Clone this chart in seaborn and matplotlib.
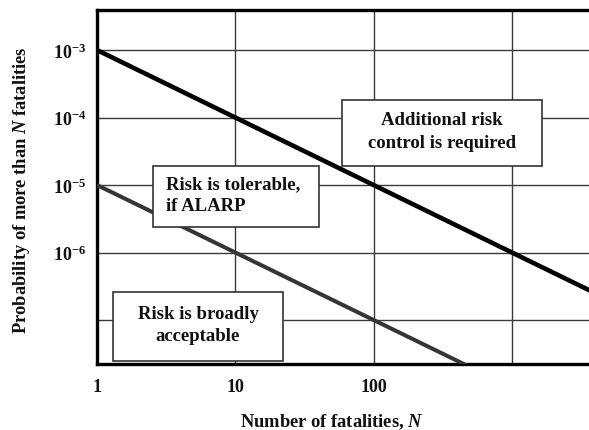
import matplotlib
matplotlib.use("Agg")
import matplotlib.pyplot as plt
from matplotlib.patches import Rectangle
import numpy as np
import pandas as pd
import seaborn as sns

# F-N criterion lines: probability of more than N fatalities
upper_N = [1, 10, 100, 1000, 10000]
upper_P = [1e-3, 1e-4, 1e-5, 1e-6, 1e-7]
lower_N = [1, 10, 100, 1000]
lower_P = [1e-5, 1e-6, 1e-7, 1e-8]

x_ticks = [1, 10, 100, 1000]
x_tick_labels = ["1", "10", "100", ""]
y_ticks = [1e-3, 1e-4, 1e-5, 1e-6, 1e-7]
y_tick_labels = [r"$10^{-3}$", r"$10^{-4}$", r"$10^{-5}$", r"$10^{-6}$", ""]

region_labels = ["Additional risk\ncontrol is required",
                 "Risk is tolerable,\nif ALARP",
                 "Risk is broadly\nacceptable"]

df = pd.DataFrame({
    "N": upper_N + lower_N,
    "P": upper_P + lower_P,
    "line": ["upper"] * len(upper_N) + ["lower"] * len(lower_N),
})

sns.set_theme(style="white")
plt.rcParams["font.family"] = ["Liberation Serif", "DejaVu Serif"]
plt.rcParams["font.weight"] = "bold"
plt.rcParams["mathtext.fontset"] = "custom"
plt.rcParams["mathtext.rm"] = "Liberation Serif:bold"
plt.rcParams["mathtext.it"] = "Liberation Serif:bold:italic"
plt.rcParams["mathtext.bf"] = "Liberation Serif:bold"

fig = plt.figure(figsize=(5.89, 4.31), dpi=100)
ax = fig.add_axes([0.1647, 0.1531, 0.8353, 0.8213])

sns.lineplot(data=df, x="N", y="P", hue="line",
             palette={"upper": "#000000", "lower": "#353535"},
             legend=False, ax=ax, zorder=3)
for line, lw in zip(ax.lines, [3.3, 2.9]):
    line.set_linewidth(lw)
    line.set_solid_capstyle("butt")

ax.set_xscale("log")
ax.set_yscale("log")
ax.set_xlim(1, 10 ** 3.557)
ax.set_ylim(10 ** -7.652, 10 ** -2.407)

ax.set_xticks(x_ticks)
ax.set_xticklabels(x_tick_labels)
ax.set_yticks(y_ticks)
ax.set_yticklabels(y_tick_labels)
ax.minorticks_off()
ax.tick_params(axis="both", length=0, labelsize=13, colors="#111111")
ax.tick_params(axis="x", pad=10)
ax.tick_params(axis="y", pad=8)

ax.grid(True, which="major", color="#3a3a3a", linewidth=1.0)
ax.set_axisbelow(True)

for side in ["left", "top", "bottom"]:
    ax.spines[side].set_visible(True)
    ax.spines[side].set_color("#000000")
    ax.spines[side].set_linewidth(2.4)
ax.spines["right"].set_visible(False)

ax.set_xlabel("Number of fatalities, $N$", fontsize=13.3, fontweight="bold",
              color="#111111")
ax.xaxis.set_label_coords(0.478, -0.135)
ax.set_ylabel("Probability of more than $N$ fatalities", fontsize=13.3,
              fontweight="bold", color="#111111")
ax.yaxis.set_label_coords(-0.132, 0.493)

# Region boxes in axes-fraction coordinates: (x0, y0, x1, y1)
boxes = [(0.498, 0.5593, 0.9045, 0.7458),
         (0.1138, 0.387, 0.4512, 0.5593),
         (0.0325, 0.0085, 0.378, 0.2034)]
for (x0, y0, x1, y1), label, align in zip(boxes, region_labels,
                                          ["center", "left", "center"]):
    ax.add_patch(Rectangle((x0, y0), x1 - x0, y1 - y0, transform=ax.transAxes,
                           facecolor="white", edgecolor="#333333",
                           linewidth=1.2, zorder=5))
    tx = (x0 + x1) / 2 if align == "center" else x0 + 0.026
    ax.text(tx, (y0 + y1) / 2 + 0.006, label, transform=ax.transAxes,
            ha=align, va="center", multialignment=align, fontsize=13.5,
            fontweight="bold", color="#111111", linespacing=1.4, zorder=6)

fig.savefig("out.png", dpi=100)
